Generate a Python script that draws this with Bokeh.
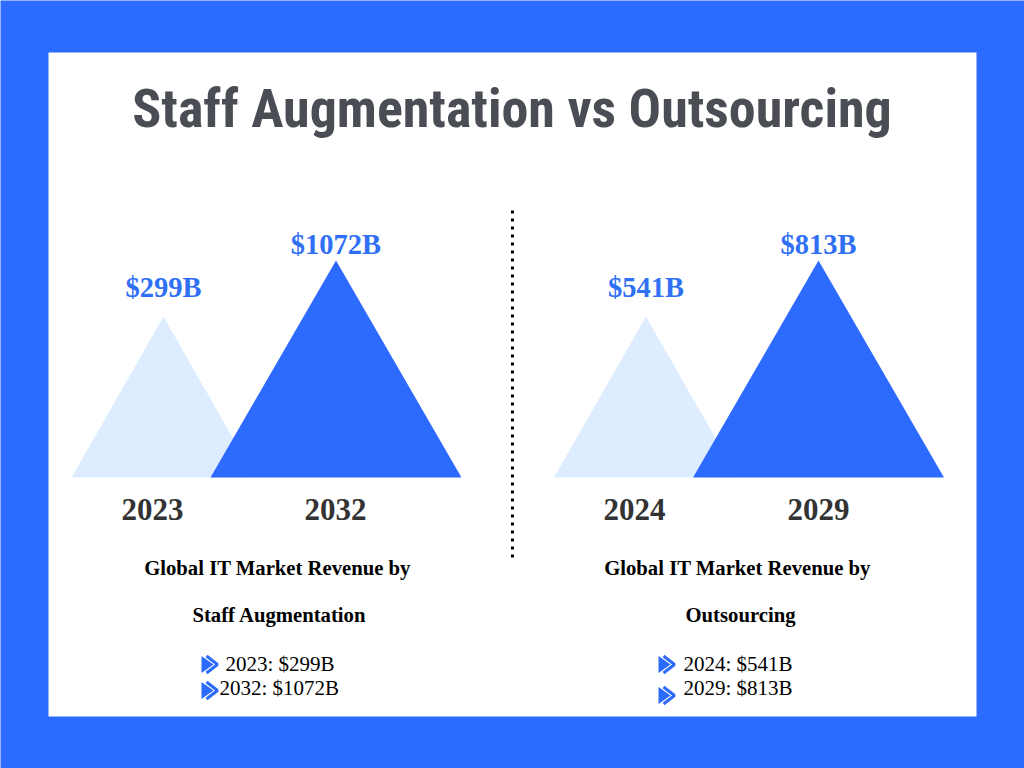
from bokeh.plotting import figure
from bokeh.models import Range1d
from bokeh.core.properties import value
from bokeh.embed import file_html
from bokeh.resources import INLINE

# ---------------- data ----------------
title = "Staff Augmentation vs Outsourcing"
segments = ["Staff Augmentation", "Outsourcing"]
years_staff = ["2023", "2032"]
values_staff = [299, 1072]
years_out = ["2024", "2029"]
values_out = [541, 813]
caption_head = "Global IT Market Revenue by"

# ---------------- style / layout ----------------
W, H = 1024, 768
BLUE_BG = "#2B6BFF"
DARK_TRI = "#2D6BFF"
LIGHT_TRI = "#DDEDFF"
LABEL_BLUE = "#3070F5"
YEAR_COL = "#333333"
TITLE_COL = "#4A4E54"
SERIF = value("Liberation Serif")
DY = -9  # baseline correction

p = figure(width=W, height=H, x_range=Range1d(0, W), y_range=Range1d(H, 0),
           output_backend="svg", toolbar_location=None, min_border=0)
p.axis.visible = False
p.grid.visible = False
p.outline_line_color = None
p.background_fill_color = BLUE_BG
p.border_fill_color = BLUE_BG

# white panel
p.quad(left=[48], right=[976], top=[52], bottom=[716], fill_color="white", line_color=None)

# title
p.text(x=[511.5], y=[108], text=[title], text_font=value("'Roboto Condensed', 'Liberation Sans Narrow', Roboto"),
       text_font_style="bold", text_font_size="54px", text_color=TITLE_COL,
       text_align="center", text_baseline="middle")

# dotted divider
p.line(x=[512, 512], y=[210, 557], line_color="black", line_width=3, line_dash="3 5")

BASE_Y = 477
panel_apex = [(163, 335.5), (645.5, 818)]
year_x = [(152, 335), (634, 818)]
HALF_W = {"small": 92, "large": 125.5}
TRI_H = {"small": 161, "large": 217}
LBL_OFF = {"small": 20, "large": 7}
caption_x = [(277, 279), (737, 740)]
bullet_text_x = [(225, 219), (683, 683)]
bullet_arrow = [((201, 664), (201, 690)), ((658, 664), (658, 695))]
bullet_base = (672, 696)

panels = [(years_staff, values_staff, segments[0]), (years_out, values_out, segments[1])]

for i, (yrs, vals, seg) in enumerate(panels):
    order = sorted(range(len(vals)), key=lambda k: vals[k])
    ranks = {order[0]: "small", order[1]: "large"}
    for k in order:  # smaller drawn first (behind)
        r = ranks[k]
        ax = panel_apex[i][k]
        hw = HALF_W[r]
        th = TRI_H[r]
        col = LIGHT_TRI if r == "small" else DARK_TRI
        p.patch(x=[ax - hw, ax, ax + hw], y=[BASE_Y, BASE_Y - th, BASE_Y],
                fill_color=col, line_color=None)
        p.text(x=[ax], y=[BASE_Y - th - LBL_OFF[r] + DY], text=[f"${vals[k]}B"],
               text_font=SERIF, text_font_style="bold", text_font_size="28.5px",
               text_color=LABEL_BLUE, text_align="center", text_baseline="alphabetic")
        p.text(x=[year_x[i][k]], y=[518 + DY], text=[yrs[k]],
               text_font=SERIF, text_font_style="bold", text_font_size="31px",
               text_color=YEAR_COL, text_align="center", text_baseline="alphabetic")
    # captions
    p.text(x=[caption_x[i][0]], y=[576 + DY], text=[caption_head], text_font=SERIF,
           text_font_style="bold", text_font_size="20.7px", text_color="black",
           text_align="center", text_baseline="alphabetic")
    p.text(x=[caption_x[i][1]], y=[623 + DY], text=[seg], text_font=SERIF,
           text_font_style="bold", text_font_size="20.7px", text_color="black",
           text_align="center", text_baseline="alphabetic")
    # bullets
    for k in range(len(vals)):
        bx, by = bullet_arrow[i][k]
        p.patch(x=[bx, bx + 12, bx], y=[by - 8.5, by, by + 8.5], fill_color=DARK_TRI, line_color=None)
        p.line(x=[bx + 5, bx + 16, bx + 5], y=[by - 8.5, by, by + 8.5], line_color=DARK_TRI, line_width=3)
        p.text(x=[bullet_text_x[i][k]], y=[bullet_base[k] + DY], text=[f"{yrs[k]}: ${vals[k]}B"],
               text_font=SERIF, text_font_size="21px", text_color="black",
               text_align="left", text_baseline="alphabetic")

open("out.html", "w").write(file_html(p, INLINE))
